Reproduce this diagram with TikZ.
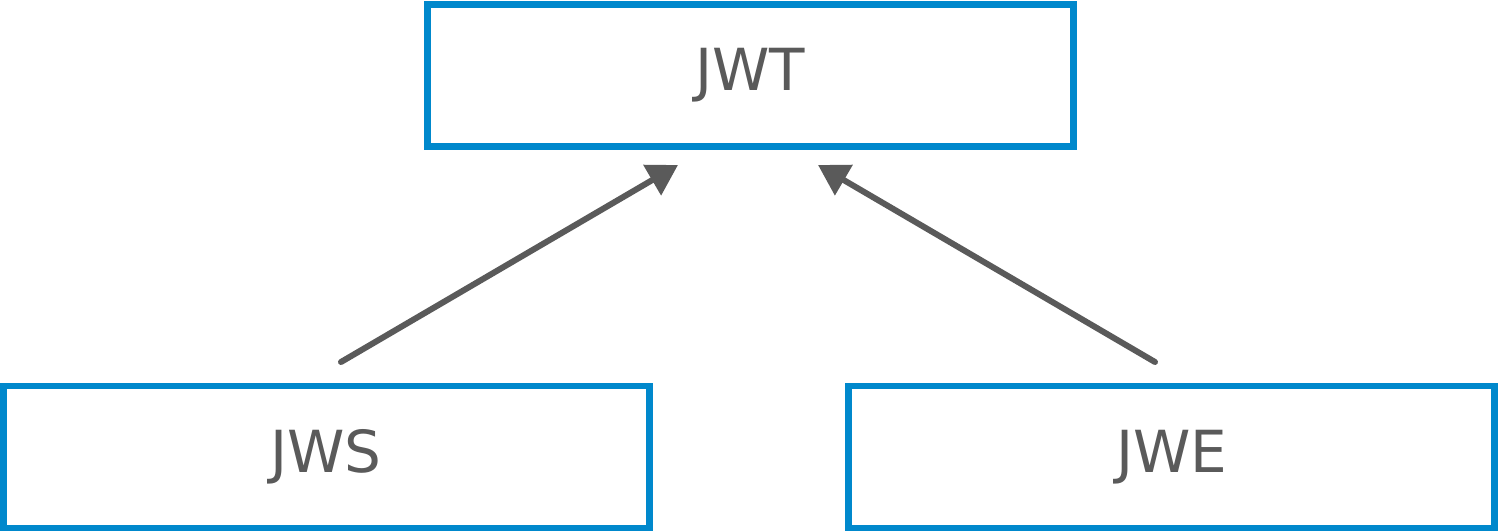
\documentclass[tikz,border=0pt]{standalone}
\usepackage{fontspec}
\setmainfont{DejaVu Sans}
\usetikzlibrary{arrows.meta}
\definecolor{boxblue}{HTML}{0088CC}
\definecolor{txtgray}{HTML}{5A5A5A}
\begin{document}
\begin{tikzpicture}[x=0.5pt,y=-0.5pt,
  box/.style={draw=boxblue,line width=3.25pt,minimum width=323pt,minimum height=71pt,inner sep=0pt,fill=white},
  lbl/.style={text=txtgray,font=\fontsize{29pt}{34pt}\selectfont,anchor=base,inner sep=0pt},
  arr/.style={draw=txtgray,line width=3pt,line cap=round,-{Triangle[length=15pt,width=17pt]}}]
\useasboundingbox (0,0) rectangle (1500,531);
\node[box] (jwt) at (750.5,75.5) {};
\node[box] (jws) at (326.5,456.8) {};
\node[box] (jwe) at (1171.5,456.8) {};
\node[lbl] (tjwt) at (750,90) {JWT};
\node[lbl] (tjws) at (326,472) {JWS};
\node[lbl] (tjwe) at (1172,472) {JWE};
\coordinate (s1) at (341,362);
\coordinate (e1) at (678,165);
\coordinate (s2) at (1155,362);
\coordinate (e2) at (818,165);
\draw[arr] (s1) -- (e1);
\draw[arr] (s2) -- (e2);
\end{tikzpicture}
\end{document}
